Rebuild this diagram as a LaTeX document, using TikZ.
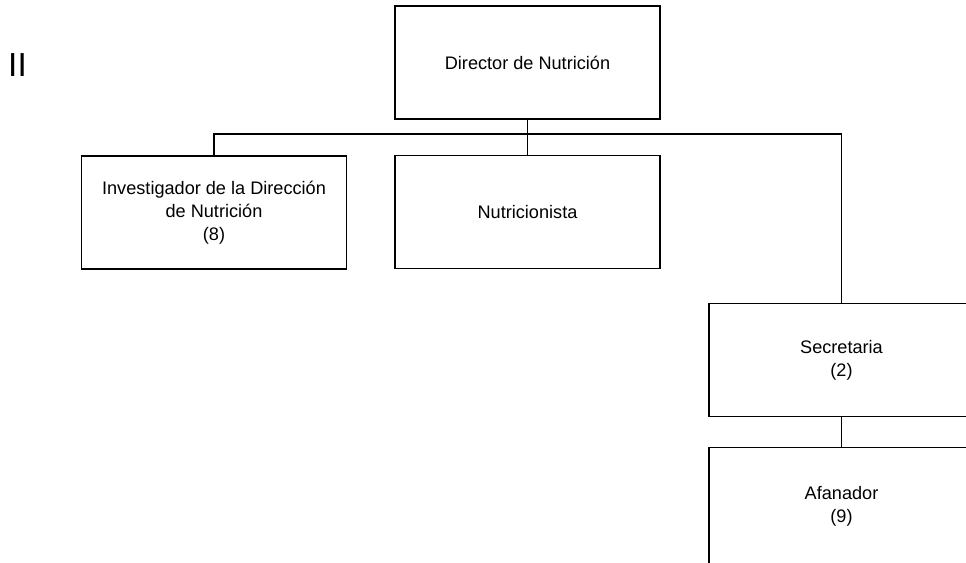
\documentclass[tikz,border=0pt]{standalone}
\usepackage{fontspec}
\setmainfont{Liberation Sans}
\usetikzlibrary{positioning,calc}
\tikzset{
  wire/.style      = {line width=1.3pt},
  post/.style      = {draw, line width=1.3pt, rectangle, align=center,
                      minimum width=198.75pt, minimum height=84.75pt,
                      inner sep=2pt, font=\fontsize{13.6}{17.2}\selectfont},
  mark label/.style= {font=\fontsize{25}{28}\selectfont, inner sep=0pt},
}

\begin{document}
\begin{tikzpicture}[x=0.75pt,y=-0.75pt]
  \useasboundingbox (0,0) rectangle (966,562);

  \node[mark label] (sec label) at (17.5,65) {II};

  \node[post] (dir) at (527.5,62.5)  {Director de Nutrición};
  \node[post] (inv) at (214,212.5)   {Investigador de la Dirección\\de Nutrición\\(8)};
  \node[post] (nut) at (527.5,212)   {Nutricionista};
  \node[post] (sec) at (841.5,360)   {Secretaria\\(2)};
  \node[post,minimum height=87.75pt] (afa) at (841.5,506) {Afanador\\(9)};

  \coordinate (bus) at (0,134);       % horizontal branch line
  \draw[wire] (dir.south) -- (nut.north);
  \draw[wire] (inv.north) -- (inv.north |- bus) -- (sec.north |- bus) -- (sec.north);
  \draw[wire] (sec.south) -- (afa.north);
\end{tikzpicture}
\end{document}
